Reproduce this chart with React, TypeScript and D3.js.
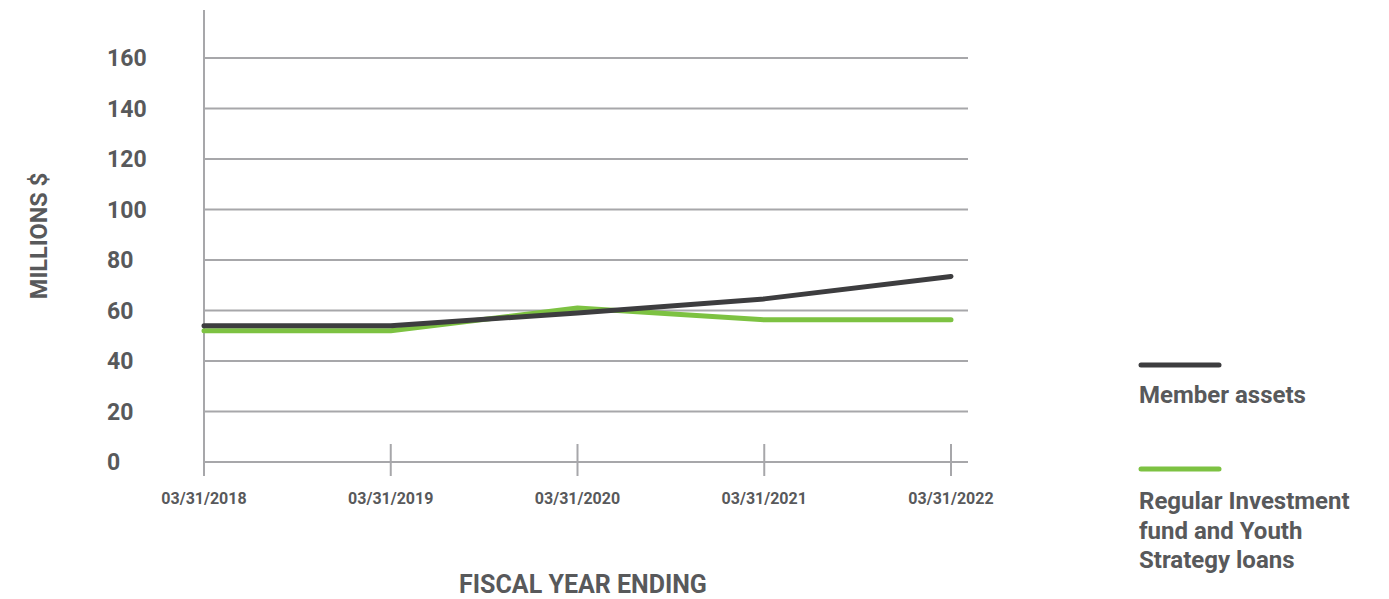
import React from "react";
import * as d3 from "d3";

const categories = ["03/31/2018", "03/31/2019", "03/31/2020", "03/31/2021", "03/31/2022"];
const memberAssets = [54, 54, 59, 64.6, 73.5];
const regularInvestment = [52, 52, 61, 56.3, 56.3];
const yTicks = [0, 20, 40, 60, 80, 100, 120, 140, 160];
const seriesNames = ["Member assets", "Regular Investment fund and Youth Strategy loans"];

const TEXT = "#58595b";
const GRID = "#a7a7aa";
const DARK = "#3d3d3f";
const GREEN = "#7dc242";
const FONT = "Roboto, 'Noto Sans', sans-serif";

export default function App() {
  const x = d3.scalePoint<string>().domain(categories).range([204, 951]);
  const y = d3.scaleLinear().domain([0, 160]).range([462, 58]);
  const gen = d3
    .line<number>()
    .x((_, i) => x(categories[i]) as number)
    .y((d) => y(d))
    .curve(d3.curveLinear);

  return (
    <svg
      width={1389}
      height={599}
      style={{ position: "absolute", left: 0, top: 0, background: "#fff" }}
      fontFamily={FONT}
    >
      {yTicks.map((t) => (
        <line key={t} x1={204} x2={968} y1={y(t)} y2={y(t)} stroke={GRID} strokeWidth={2} />
      ))}
      <line x1={204} x2={204} y1={10} y2={476} stroke={GRID} strokeWidth={2} />
      {categories.slice(1).map((c) => (
        <line key={c} x1={x(c)} x2={x(c)} y1={444} y2={476} stroke={GRID} strokeWidth={2} />
      ))}
      {yTicks.map((t) => (
        <text key={t} x={107} y={y(t) + 8} fontSize={23} fontWeight={700} fill={TEXT}>
          {t}
        </text>
      ))}
      {categories.map((c) => (
        <text key={c} x={x(c)} y={504} fontSize={16} fontWeight={700} fill={TEXT} textAnchor="middle">
          {c}
        </text>
      ))}
      <text
        transform="translate(47,236) rotate(-90)"
        fontSize={23.5}
        fontWeight={700}
        fill={TEXT}
        textAnchor="middle"
      >
        MILLIONS $
      </text>
      <text x={583} y={593} fontSize={25} fontWeight={700} fill={TEXT} textAnchor="middle">
        FISCAL YEAR ENDING
      </text>
      <path
        d={gen(regularInvestment) || ""}
        fill="none"
        stroke={GREEN}
        strokeWidth={5}
        strokeLinecap="round"
        strokeLinejoin="round"
      />
      <path
        d={gen(memberAssets) || ""}
        fill="none"
        stroke={DARK}
        strokeWidth={5}
        strokeLinecap="round"
        strokeLinejoin="round"
      />
      <line x1={1141} x2={1219} y1={365} y2={365} stroke={DARK} strokeWidth={5} strokeLinecap="round" />
      <text x={1139} y={403} fontSize={24} fontWeight={700} fill={TEXT}>
        {seriesNames[0]}
      </text>
      <line x1={1141} x2={1219} y1={469} y2={469} stroke={GREEN} strokeWidth={5} strokeLinecap="round" />
      <text x={1139} y={509} fontSize={24} fontWeight={700} fill={TEXT}>
        <tspan x={1139} dy={0}>Regular Investment</tspan>
        <tspan x={1139} dy={29.5}>fund and Youth</tspan>
        <tspan x={1139} dy={29.5}>Strategy loans</tspan>
      </text>
    </svg>
  );
}
